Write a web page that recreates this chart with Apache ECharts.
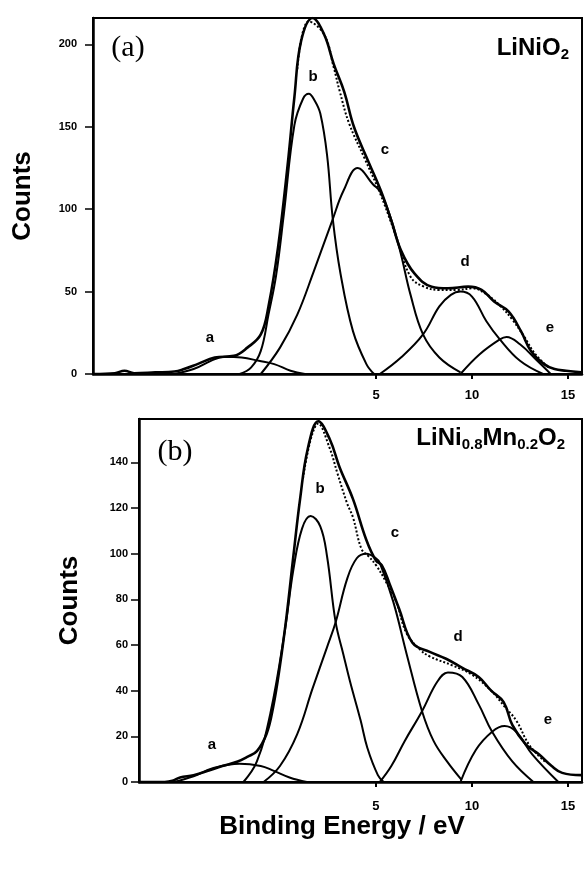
<!DOCTYPE html>
<html>
<head>
<meta charset="utf-8">
<script src="https://cdn.jsdelivr.net/npm/echarts@6/dist/echarts.min.js"></script>
<style>
  html, body { margin: 0; padding: 0; background: #fff; }
  #chart { width: 584px; height: 878px; }
</style>
</head>
<body>
<div id="chart"></div>
<script>
// ---- data (binding energy eV, counts) ----
// panel (a) LiNiO2
const aEnvE = [-9.7,-8.6,-8.1,-7.6,-6.5,-5.5,-5.0,-4.3,-3.4,-2.4,-1.7,-1.0,-0.6,-0.1,0.4,0.75,1.1,1.7,2.3,2.8,3.35,3.85,4.6,5.26,5.8,6.3,7.0,7.9,8.75,9.8,10.5,11.15,11.9,12.55,13.07,13.75,14.3,14.9,15.7];
const aEnvC = [0,0.5,2,0.5,1,1.5,3,6,10,11,16,24,41,77,127,168,202,216,206,188,171,150,129,111,93,75,61,53,52,53,51,44,38,26,14,6,3,2,1];
const aFitE = [0.9,1.5,2.3,2.8,3.1,3.6,4.4,5.2,6.0,6.8,7.5,8.3,9.2,10.0,10.8,11.5,12.1,12.7,13.3,14.0];
const aFitC = [185,214,206,186,172,152,131,110,85,59,53,51,51,52,48,41,33,23,12,4];
const aPeakAE = [-5.5,-4.5,-3.6,-2.9,-2,-1.1,-0.3,0.55,1.3];
const aPeakAC = [0,3,8,10.5,10,8,6,2,0];
const aPeakBE = [-2.1,-1.5,-1,-0.6,-0.2,0.2,0.75,1.2,1.5,1.8,2.1,2.45,2.75,3.15,3.8,4.5,4.9];
const aPeakBC = [0,4,14,36,60,97,151,167,170,166,158,133,94,61,26,6,0];
const aPeakCE = [-1,0,0.9,1.75,2.75,3.3,4.05,4.85,5.2,5.7,6.25,6.8,7.45,8.3,9.4];
const aPeakCC = [0,16,36,62,94,111,125,115,111,97,75,48,24,10,1];
const aPeakDE = [5.2,6.3,7.45,8.3,8.9,9.4,10.0,10.75,11.45,12.5,13.7];
const aPeakDC = [0,10,24,41,48,50,47,32,21,8,0];
const aPeakEE = [9.4,10.4,11.45,11.8,12.5,13.4,14.1];
const aPeakEC = [0,12,21,22.5,18,8,0];

// panel (b) LiNi0.8Mn0.2O2
const bEnvE = [-7.34,-6.0,-5.6,-5.2,-4.5,-3.7,-3.0,-2.2,-1.7,-1.2,-0.7,-0.35,0,0.35,0.7,1.05,1.45,2.0,2.6,3.1,3.8,4.5,5.0,5.3,5.7,6.2,6.9,7.8,8.65,9.5,10.35,11.0,11.65,12.1,12.8,13.5,14.15,14.7,15.7];
const bEnvC = [0,0,0.5,2,3,5,7,9,11,13.5,21,33,51,73,99,124,146,158,150,138,124,106,97,95,87,76,61,57,54,50,46,40,35,25,16.5,12,7,4,3];
const bFitE = [1.2,2.0,2.6,3.0,3.5,3.8,4.25,4.6,5.0,5.5,6.05,6.6,7.3,7.8,9.0,10.0,11.0,11.7,12.3,13.0,13.8];
const bFitC = [133,157,146,135,122,116,102,99,95,88,79,65,58,55,51,47,40,33,27,16,9];
const bPeakAE = [-5.5,-4.5,-3.5,-2.1,-1,-0.35,0.5,1.4];
const bPeakAC = [0,2.5,6,8,7,5,2,0];
const bPeakBE = [-1.9,-1.2,-0.5,0.25,0.7,1.15,1.6,2.1,2.45,2.9,3.3,3.65,4.2,4.55,5.1,5.4];
const bPeakBC = [0,9,30,66,93,111,116.5,112,99,70,56,44,27,15,3,0];
const bPeakCE = [-0.85,0,0.9,1.7,2.45,2.9,3.5,4.0,4.5,5.0,5.2,5.9,6.6,7.4,8.0,8.7,9.45];
const bPeakCC = [0,7,21,41,59,70,89,98,100,98,96,79,56,31,18,9,1];
const bPeakDE = [5.2,5.8,6.5,7.4,8.2,8.75,9.5,10.35,11.05,12.1,13.2];
const bPeakDC = [0,7,18,31,44,48,46,34,22,9,0];
const bPeakEE = [9.4,10.2,11.05,11.7,12.3,13.15,14.5];
const bPeakEC = [0,14,22,24.5,22,12,0];

const xTicks = [5, 10, 15];
const aYTicks = [0, 50, 100, 150, 200];
const bYTicks = [0, 20, 40, 60, 80, 100, 120, 140];

function pts(xs, ys) {
  return xs.map((x, i) => [x, ys[i]]);
}

const chart = echarts.init(document.getElementById('chart'));

const FONT = 'Liberation Sans';

function xAxisFor(grid, min, margin) {
  return {
    gridIndex: grid, type: 'value', min: min, max: 15.73,
    axisLine: { show: true, onZero: false, lineStyle: { color: '#000', width: 2.5 } },
    axisTick: { show: true, customValues: xTicks, length: 5, lineStyle: { color: '#000', width: 2 } },
    axisLabel: { customValues: xTicks, margin: margin, color: '#000', fontSize: 13, fontWeight: 'bold', fontFamily: FONT },
    splitLine: { show: false }
  };
}

function yAxisFor(grid, max, ticks, margin, nameGap) {
  return {
    gridIndex: grid, type: 'value', min: 0, max: max,
    name: 'Counts', nameLocation: 'middle', nameGap: nameGap, nameMoveOverlap: false,
    nameTextStyle: { color: '#000', fontSize: 26, fontWeight: 'bold', fontFamily: FONT },
    axisLine: { show: true, onZero: false, lineStyle: { color: '#000', width: 2.5 } },
    axisTick: { show: true, customValues: ticks, length: 8, lineStyle: { color: '#000', width: 1.5 } },
    axisLabel: { customValues: ticks, margin: margin, color: '#000', fontSize: 11, fontWeight: 'bold', fontFamily: FONT },
    splitLine: { show: false }
  };
}

function line(grid, data, width, type) {
  return {
    type: 'line', xAxisIndex: grid, yAxisIndex: grid, data: data,
    smooth: 0.4, symbol: 'none', silent: true,
    lineStyle: { color: '#000', width: width, type: type || 'solid' }
  };
}

function txt(x, y, s, size, extra) {
  return {
    type: 'text', x: x, y: y, silent: true,
    style: Object.assign({
      text: s, fill: '#000', font: 'bold ' + size + 'px ' + FONT,
      textAlign: 'center', textVerticalAlign: 'middle'
    }, extra || {})
  };
}

const formulaRich = {
  m: { fontSize: 24, fontWeight: 'bold', fontFamily: FONT, lineHeight: 28 },
  s: { fontSize: 15, fontWeight: 'bold', fontFamily: FONT, lineHeight: 13, verticalAlign: 'bottom' }
};

chart.setOption({
  animation: false,
  backgroundColor: '#fff',
  grid: [
    { left: 93, top: 18, width: 489, height: 356, show: true, borderColor: '#000', borderWidth: 2, outerBoundsMode: 'none', containLabel: false },
    { left: 139, top: 419, width: 443, height: 363, show: true, borderColor: '#000', borderWidth: 2, outerBoundsMode: 'none', containLabel: false }
  ],
  xAxis: [xAxisFor(0, -9.74, 15), xAxisFor(1, -7.34, 18)],
  yAxis: [yAxisFor(0, 216, aYTicks, 16, 57), yAxisFor(1, 159, bYTicks, 11, 56)],
  series: [
    line(0, pts(aFitE, aFitC), 2, 'dotted'),
    line(0, pts(aPeakAE, aPeakAC), 2),
    line(0, pts(aPeakBE, aPeakBC), 2),
    line(0, pts(aPeakCE, aPeakCC), 2),
    line(0, pts(aPeakDE, aPeakDC), 2),
    line(0, pts(aPeakEE, aPeakEC), 2),
    line(0, pts(aEnvE, aEnvC), 2.6),
    line(1, pts(bFitE, bFitC), 2, 'dotted'),
    line(1, pts(bPeakAE, bPeakAC), 2),
    line(1, pts(bPeakBE, bPeakBC), 2),
    line(1, pts(bPeakCE, bPeakCC), 2),
    line(1, pts(bPeakDE, bPeakDC), 2),
    line(1, pts(bPeakEE, bPeakEC), 2),
    line(1, pts(bEnvE, bEnvC), 2.6)
  ],
  graphic: [
    txt(128, 48, '(a)', 30, { font: '30px Liberation Serif' }),
    txt(175, 452, '(b)', 30, { font: '30px Liberation Serif' }),
    {
      type: 'text', x: 569, y: 34, silent: true,
      style: { text: '{m|LiNiO}{s|2}', textAlign: 'right', fill: '#000', rich: formulaRich }
    },
    {
      type: 'text', x: 565, y: 424, silent: true,
      style: { text: '{m|LiNi}{s|0.8}{m|Mn}{s|0.2}{m|O}{s|2}', textAlign: 'right', fill: '#000', rich: formulaRich }
    },
    txt(210, 338, 'a', 15), txt(313, 77, 'b', 15), txt(385, 150, 'c', 15),
    txt(465, 262, 'd', 15), txt(550, 328, 'e', 15),
    txt(212, 745, 'a', 15), txt(320, 489, 'b', 15), txt(395, 533, 'c', 15),
    txt(458, 637, 'd', 15), txt(548, 720, 'e', 15),
    txt(342, 827, 'Binding Energy / eV', 26)
  ]
});
</script>
</body>
</html>
